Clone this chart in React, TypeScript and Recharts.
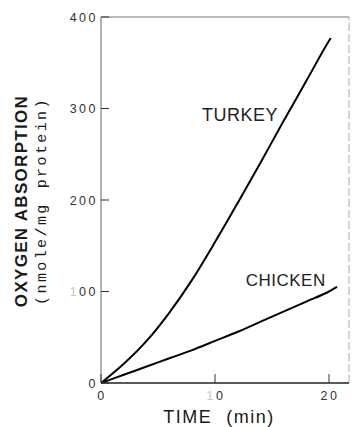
import React from 'react';
import { LineChart, Line, XAxis, YAxis, ReferenceLine, ReferenceDot, Label } from 'recharts';

// Oxygen absorption (nmole/mg protein) over time (min)
const turkeyTime = [0, 2, 4, 6, 8, 10, 12, 14, 16, 18, 20, 20.15];
const turkeyO2 = [0, 21, 46, 77, 113, 154, 197, 241, 286, 330, 374, 377];
const chickenTime = [0, 2, 4, 6, 8, 10, 12, 14, 16, 18, 20, 20.7];
const chickenO2 = [0, 9, 18, 27, 36, 46, 56, 67, 78, 89, 100, 105];

const xTicks = [0, 10, 20];
const yTicks = [0, 100, 200, 300, 400];
const xMax = 21.75;

const seriesNames = ['TURKEY', 'CHICKEN'];
// where each series name sits, in data units
const nameAt = [
  { x: 12.2, y: 293 },
  { x: 16.2, y: 113 },
];

const turkey = turkeyTime.map((t, i) => ({ t, v: turkeyO2[i] }));
const chicken = chickenTime.map((t, i) => ({ t, v: chickenO2[i] }));

const FONT = '"Liberation Sans", Arial, sans-serif';
const MONO = '"Liberation Mono", "DejaVu Sans Mono", monospace';
const INK = '#1a1a1a';

// tick label: a leading "1" comes out faint in the lettering
const TickText = ({ x, y, value, anchor }: { x: number; y: number; value: string; anchor: string }) => {
  const faint = value.startsWith('1');
  return (
    <text x={x} y={y} textAnchor={anchor} fontFamily={FONT} fontSize={12.5} letterSpacing={2.5} fill="#333">
      {faint ? <tspan fill="#c8c8c8">1</tspan> : null}
      {faint ? value.slice(1) : value}
    </text>
  );
};

const YTick = (props: any) => {
  const { x, y, payload } = props;
  return (
    <g>
      <line x1={x + 4} x2={x + 12} y1={y} y2={y} stroke="#333" strokeWidth={1} />
      <TickText x={x + 1} y={y + 4.5} value={String(payload.value)} anchor="end" />
    </g>
  );
};

const XTick = (props: any) => {
  const { x, y, payload } = props;
  return (
    <g>
      <line x1={x} x2={x} y1={y - 8} y2={y - 17} stroke="#333" strokeWidth={1} />
      <TickText x={x + 1} y={y + 9} value={String(payload.value)} anchor="middle" />
    </g>
  );
};

const YTitle = (props: any) => {
  const { x, y, height } = props.viewBox;
  const cy = y + height / 2 + 1;
  return (
    <g>
      <text
        transform={`translate(${x - 44}, ${cy}) rotate(-90)`}
        textAnchor="middle"
        fontFamily={FONT}
        fontWeight="bold"
        fontSize={17}
        letterSpacing={1.3}
        fill={INK}
      >
        OXYGEN ABSORPTION
      </text>
      <text
        transform={`translate(${x - 25.5}, ${cy}) rotate(-90)`}
        textAnchor="middle"
        fontFamily={MONO}
        fontSize={15}
        letterSpacing={2.4}
        fill={INK}
      >
        <tspan>(nmole/mg</tspan>
        <tspan dx={14}>protein)</tspan>
      </text>
    </g>
  );
};

const XTitle = (props: any) => {
  const { x, y, width } = props.viewBox;
  return (
    <text x={x + width / 2 - 6} y={y + 40} textAnchor="middle" fontFamily={FONT} fontSize={18} letterSpacing={1.5} fill={INK}>
      <tspan>TIME</tspan>
      <tspan dx={14}>(min)</tspan>
    </text>
  );
};

export default function App() {
  return (
    <div style={{ position: 'absolute', left: 0, top: 0, background: '#fff' }}>
      <LineChart width={353} height={427} margin={{ top: 17, right: 4, bottom: 14, left: 71 }}>
        <XAxis
          dataKey="t"
          type="number"
          domain={[0, xMax]}
          ticks={xTicks}
          allowDataOverflow
          height={30}
          tickSize={0}
          tickMargin={8}
          tickLine={false}
          axisLine={{ stroke: '#222', strokeWidth: 1.5 }}
          tick={<XTick />}
        >
          <Label content={XTitle} />
        </XAxis>
        <YAxis
          type="number"
          domain={[0, 400]}
          ticks={yTicks}
          width={30}
          tickSize={0}
          tickMargin={4}
          tickLine={false}
          axisLine={{ stroke: '#666', strokeWidth: 1 }}
          tick={<YTick />}
        >
          <Label content={YTitle} />
        </YAxis>
        <ReferenceLine y={400} stroke="#777" strokeWidth={1} />
        <ReferenceLine x={xMax} stroke="#aaa" strokeWidth={1} strokeDasharray="8 3" />
        <Line data={turkey} dataKey="v" type="monotone" stroke="#000" strokeWidth={2} dot={false} isAnimationActive={false} />
        <Line data={chicken} dataKey="v" type="monotone" stroke="#000" strokeWidth={2} dot={false} isAnimationActive={false} />
        {seriesNames.map((name, i) => (
          <ReferenceDot
            key={name}
            x={nameAt[i].x}
            y={nameAt[i].y}
            r={1}
            fill="none"
            stroke="none"
            label={{ value: name, position: 'center', fontSize: i === 0 ? 18 : 17, fill: '#222', fontFamily: FONT, letterSpacing: 0.5 }}
          />
        ))}
      </LineChart>
    </div>
  );
}
